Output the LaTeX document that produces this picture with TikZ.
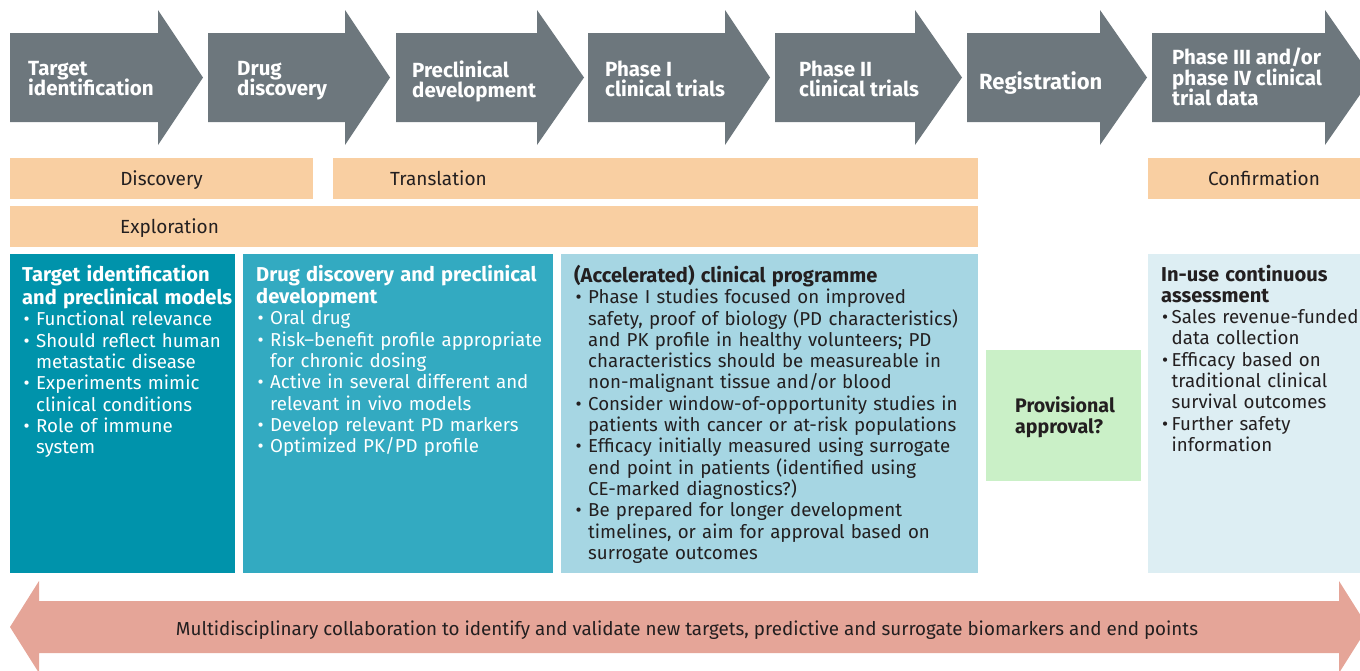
\documentclass[tikz,border=0pt]{standalone}
\usepackage{fontspec}
\setmainfont{Fira Sans}
\lineskiplimit=-30pt\relax
\definecolor{arrowgray}{HTML}{6D777D}
\definecolor{barorange}{HTML}{F9CFA2}
\definecolor{boxone}{HTML}{0093AB}
\definecolor{boxtwo}{HTML}{33AAC1}
\definecolor{boxthree}{HTML}{A6D6E3}
\definecolor{boxfour}{HTML}{DDEEF3}
\definecolor{provgreen}{HTML}{CAF0C7}
\definecolor{salmon}{HTML}{E5A598}
\definecolor{darktext}{HTML}{231F20}
\newcommand\smbul{{\fontsize{18.7}{18.7}\selectfont\textbullet}}
\newcommand\bulA{\makebox[14pt][l]{\hspace{1.5pt}\smbul}}
\newcommand\indA{\hspace*{14pt}}
\newcommand\bulB{\makebox[10.5pt][l]{\hspace{1pt}\smbul}}
\newcommand\indB{\hspace*{10.5pt}}
\newcommand\hd[1]{{\fontsize{20.1}{21.3}\selectfont\bfseries #1}}
\newcommand\phasearrow[3]{\fill[arrowgray] (#1,33) -- (#2,33) -- (#2,10) -- (#3,77.5) -- (#2,145) -- (#2,122) -- (#1,122) -- cycle;}
\tikzset{
  arrowlabel/.style={inner sep=0pt, anchor=north west, align=left, text=white,
    font=\fontsize{20.5}{20}\selectfont\bfseries},
  barlabel/.style={inner sep=0pt, text=darktext, font=\fontsize{19}{22}\selectfont},
  boxtext/.style={inner sep=0pt, anchor=north west, align=left, text width=#1,
    font=\fontsize{18.7}{21.3}\selectfont},
}
\begin{document}
\begin{tikzpicture}[x=1pt,y=-1pt]
\useasboundingbox (0,0) rectangle (1360,670);
% phase arrows
\phasearrow{10}{158}{203}
\phasearrow{208}{345}{390}
\phasearrow{396}{537}{584}
\phasearrow{588}{725}{770}
\phasearrow{775}{915}{962}
\phasearrow{967}{1100}{1147}
\phasearrow{1152}{1325}{1372}
\node[arrowlabel] (a1) at (28,61) {\strut Target\\identification};
\node[arrowlabel] (a2) at (237,61) {\strut Drug\\discovery};
\node[arrowlabel] (a3) at (412,61) {\strut Preclinical\\development};
\node[arrowlabel] (a4) at (605,61) {\strut Phase I\\clinical trials};
\node[arrowlabel] (a5) at (799,61) {\strut Phase II\\clinical trials};
\node[arrowlabel, font=\fontsize{22}{20}\selectfont\bfseries] (a6) at (979,71) {\strut Registration};
\node[arrowlabel, font=\fontsize{20.5}{20.5}\selectfont\bfseries] (a7) at (1172,47.7) {\strut Phase III and/or\\phase IV clinical\\trial data};
% bars
\fill[barorange] (10,158) rectangle (313,199);
\fill[barorange] (333,158) rectangle (978,199);
\fill[barorange] (1148,158) rectangle (1370,199);
\fill[barorange] (10,206) rectangle (978,247);
\node[barlabel, anchor=base] (discovery) at (161.5,185) {Discovery};
\node[barlabel, anchor=base west] (translation) at (390,185) {Translation};
\node[barlabel, anchor=base] (confirmation) at (1264,185.5) {Confirmation};
\node[barlabel, anchor=base west] (exploration) at (120,233) {Exploration};
% boxes
\fill[boxone] (10,254) rectangle (235,573);
\fill[boxtwo] (243,254) rectangle (553,573);
\fill[boxthree] (561,254) rectangle (978,573);
\fill[boxfour] (1148,254) rectangle (1370,573);
\fill[provgreen] (986,350) rectangle (1141,481);
\node[boxtext=400pt, text=white] (t1) at (22,264.5) {\strut\hd{Target identification}\\
\hd{and preclinical models}\\
\bulA Functional relevance\\
\bulA Should reflect human\\
\indA metastatic disease\\
\bulA Experiments mimic\\
\indA clinical conditions\\
\bulA Role of immune\\
\indA system};
\node[boxtext=400pt, text=white] (t2) at (256,264.5) {\strut\hd{Drug discovery and preclinical}\\
\hd{development}\\
\bulA Oral drug\\
\bulA Risk–benefit profile appropriate\\
\indA for chronic dosing\\
\bulA Active in several different and\\
\indA relevant in vivo models\\
\bulA Develop relevant PD markers\\
\bulA Optimized PK/PD profile};
\node[boxtext=500pt, text=darktext] (t3) at (574,265) {\strut\hd{(Accelerated) clinical programme}\\
\bulA Phase I studies focused on improved\\
\indA safety, proof of biology (PD characteristics)\\
\indA and PK profile in healthy volunteers; PD\\
\indA characteristics should be measureable in\\
\indA non-malignant tissue and/or blood\\
\bulA Consider window-of-opportunity studies in\\
\indA patients with cancer or at-risk populations\\
\bulA Efficacy initially measured using surrogate\\
\indA end point in patients (identified using\\
\indA CE-marked diagnostics?)\\
\bulA Be prepared for longer development\\
\indA timelines, or aim for approval based on\\
\indA surrogate outcomes};
\node[boxtext=300pt, text=darktext, font=\fontsize{19.6}{20}\selectfont\bfseries] (prov) at (1015,396) {\strut Provisional\\approval?};
\node[boxtext=400pt, text=darktext] (t4) at (1161,264.5) {\strut\hd{In-use continuous}\\
\hd{assessment}\\
\bulB Sales revenue-funded\\
\indB data collection\\
\bulB Efficacy based on\\
\indB traditional clinical\\
\indB survival outcomes\\
\bulB Further safety\\
\indB information};
% bottom double arrow
\fill[salmon] (10,627) -- (39,581) -- (39,601) -- (1339,601) -- (1339,581) -- (1368,627) -- (1339,673) -- (1339,653) -- (39,653) -- (39,673) -- cycle;
\node[barlabel, font=\fontsize{18.8}{22}\selectfont, anchor=base] (collab) at (687,635.5) {Multidisciplinary collaboration to identify and validate new targets, predictive and surrogate biomarkers and end points};
\end{tikzpicture}
\end{document}
